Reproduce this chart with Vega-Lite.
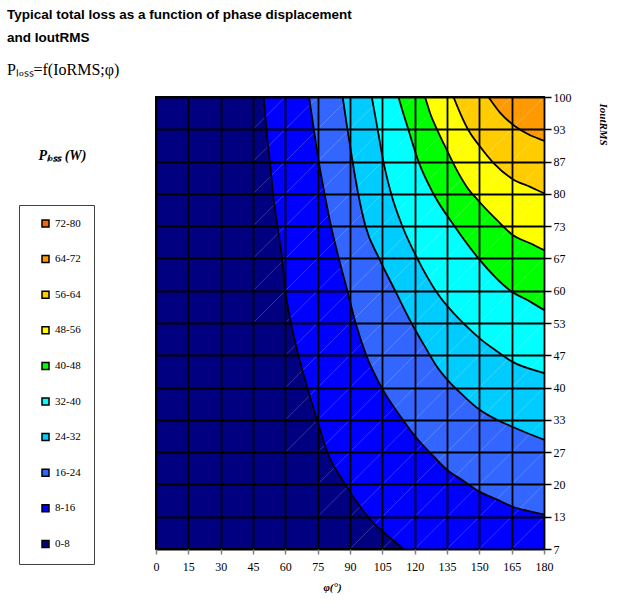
{
  "$schema": "https://vega.github.io/schema/vega-lite/v6.json",
  "width": 388,
  "height": 452,
  "autosize": {"type": "none"},
  "padding": {"left": 156, "top": 97, "right": 84, "bottom": 67},
  "background": "#ffffff",
  "title": {
    "text": ["Typical total loss as a function of phase displacement", "and IoutRMS"],
    "subtitle": "Pₗₒₛₛ=f(IoRMS;φ)",
    "anchor": "start",
    "frame": "group",
    "dx": -149,
    "offset": 13,
    "font": "Liberation Sans",
    "fontSize": 13.5,
    "fontWeight": "bold",
    "color": "#000000",
    "lineHeight": 23,
    "subtitleFont": "Liberation Serif",
    "subtitleFontSize": 16,
    "subtitleColor": "#000000",
    "subtitlePadding": 18
  },
  "datasets": {
    "contours": [
      {"lv": 8, "phi": 47.3, "I": 113.3}, {"lv": 8, "phi": 50.0, "I": 100}, {"lv": 8, "phi": 51.2, "I": 93.4}, {"lv": 8, "phi": 52.8, "I": 86.7}, {"lv": 8, "phi": 54.3, "I": 80.1}, {"lv": 8, "phi": 56.3, "I": 73.4}, {"lv": 8, "phi": 58.5, "I": 66.8}, {"lv": 8, "phi": 60.0, "I": 60.1}, {"lv": 8, "phi": 62.6, "I": 53.5}, {"lv": 8, "phi": 66.0, "I": 46.9}, {"lv": 8, "phi": 70.2, "I": 40.2}, {"lv": 8, "phi": 74.7, "I": 33.6}, {"lv": 8, "phi": 79.5, "I": 26.9}, {"lv": 8, "phi": 87.8, "I": 20.3}, {"lv": 8, "phi": 98.3, "I": 13.6}, {"lv": 8, "phi": 114.6, "I": 7.0}, {"lv": 8, "phi": 129.0, "I": 0.4}, {"lv": 8, "phi": 187.5, "I": -19.6},
      {"lv": 16, "phi": 66.5, "I": 113.3}, {"lv": 16, "phi": 71.0, "I": 100}, {"lv": 16, "phi": 73.2, "I": 93.4}, {"lv": 16, "phi": 75.5, "I": 86.7}, {"lv": 16, "phi": 78.2, "I": 80.1}, {"lv": 16, "phi": 81.2, "I": 73.4}, {"lv": 16, "phi": 84.8, "I": 66.8}, {"lv": 16, "phi": 88.8, "I": 60.1}, {"lv": 16, "phi": 92.6, "I": 53.5}, {"lv": 16, "phi": 97.5, "I": 46.9}, {"lv": 16, "phi": 104.7, "I": 40.2}, {"lv": 16, "phi": 114.5, "I": 33.6}, {"lv": 16, "phi": 120.2, "I": 30.2}, {"lv": 16, "phi": 128.7, "I": 26.1}, {"lv": 16, "phi": 135.0, "I": 23.3}, {"lv": 16, "phi": 142.7, "I": 21.0}, {"lv": 16, "phi": 150.0, "I": 18.8}, {"lv": 16, "phi": 158.1, "I": 17.2}, {"lv": 16, "phi": 165.0, "I": 15.8}, {"lv": 16, "phi": 180.0, "I": 14.1}, {"lv": 16, "phi": 195.0, "I": 12.7},
      {"lv": 24, "phi": 82.0, "I": 113.3}, {"lv": 24, "phi": 86.6, "I": 100}, {"lv": 24, "phi": 88.8, "I": 93.4}, {"lv": 24, "phi": 91.2, "I": 86.7}, {"lv": 24, "phi": 93.8, "I": 80.1}, {"lv": 24, "phi": 97.2, "I": 73.4}, {"lv": 24, "phi": 103.5, "I": 66.8}, {"lv": 24, "phi": 111.0, "I": 60.1}, {"lv": 24, "phi": 118.5, "I": 53.5}, {"lv": 24, "phi": 125.6, "I": 48.0}, {"lv": 24, "phi": 130.2, "I": 44.6}, {"lv": 24, "phi": 135.0, "I": 41.9}, {"lv": 24, "phi": 142.7, "I": 38.5}, {"lv": 24, "phi": 150.0, "I": 35.7}, {"lv": 24, "phi": 158.1, "I": 33.6}, {"lv": 24, "phi": 165.0, "I": 32.2}, {"lv": 24, "phi": 180.0, "I": 29.5}, {"lv": 24, "phi": 195.0, "I": 27.3},
      {"lv": 32, "phi": 94.7, "I": 113.3}, {"lv": 32, "phi": 100.1, "I": 100}, {"lv": 32, "phi": 102.8, "I": 93.4}, {"lv": 32, "phi": 105.5, "I": 86.7}, {"lv": 32, "phi": 109.1, "I": 80.1}, {"lv": 32, "phi": 114.3, "I": 73.4}, {"lv": 32, "phi": 121.2, "I": 66.8}, {"lv": 32, "phi": 129.8, "I": 60.1}, {"lv": 32, "phi": 142.5, "I": 53.5}, {"lv": 32, "phi": 145.8, "I": 52.1}, {"lv": 32, "phi": 150.0, "I": 50.4}, {"lv": 32, "phi": 158.1, "I": 47.7}, {"lv": 32, "phi": 165.0, "I": 45.6}, {"lv": 32, "phi": 180.0, "I": 43.2}, {"lv": 32, "phi": 195.0, "I": 41.2},
      {"lv": 40, "phi": 108.8, "I": 106.6}, {"lv": 40, "phi": 112.5, "I": 100}, {"lv": 40, "phi": 117.0, "I": 93.4}, {"lv": 40, "phi": 121.8, "I": 86.7}, {"lv": 40, "phi": 128.7, "I": 80.1}, {"lv": 40, "phi": 138.5, "I": 73.4}, {"lv": 40, "phi": 149.6, "I": 66.8}, {"lv": 40, "phi": 164.6, "I": 60.1}, {"lv": 40, "phi": 173.6, "I": 57.9}, {"lv": 40, "phi": 180.0, "I": 56.2}, {"lv": 40, "phi": 195.0, "I": 53.5},
      {"lv": 48, "phi": 120.0, "I": 106.6}, {"lv": 48, "phi": 124.8, "I": 100}, {"lv": 48, "phi": 127.2, "I": 96.6}, {"lv": 48, "phi": 130.5, "I": 93.2}, {"lv": 48, "phi": 134.9, "I": 89.1}, {"lv": 48, "phi": 139.5, "I": 85.0}, {"lv": 48, "phi": 144.2, "I": 81.5}, {"lv": 48, "phi": 149.9, "I": 78.5}, {"lv": 48, "phi": 158.1, "I": 74.7}, {"lv": 48, "phi": 165.5, "I": 71.6}, {"lv": 48, "phi": 173.6, "I": 69.9}, {"lv": 48, "phi": 180.0, "I": 68.5}, {"lv": 48, "phi": 195.0, "I": 66.1},
      {"lv": 56, "phi": 132.0, "I": 106.6}, {"lv": 56, "phi": 138.0, "I": 100}, {"lv": 56, "phi": 141.2, "I": 96.6}, {"lv": 56, "phi": 144.9, "I": 93.2}, {"lv": 56, "phi": 150.3, "I": 89.8}, {"lv": 56, "phi": 156.6, "I": 86.4}, {"lv": 56, "phi": 165.5, "I": 83.1}, {"lv": 56, "phi": 173.6, "I": 81.5}, {"lv": 56, "phi": 180.0, "I": 80.2}, {"lv": 56, "phi": 195.0, "I": 77.4},
      {"lv": 64, "phi": 143.3, "I": 106.6}, {"lv": 64, "phi": 154.2, "I": 100}, {"lv": 64, "phi": 159.8, "I": 96.7}, {"lv": 64, "phi": 165.3, "I": 94.4}, {"lv": 64, "phi": 172.5, "I": 92.4}, {"lv": 64, "phi": 180.0, "I": 91.0}, {"lv": 64, "phi": 195.0, "I": 88.7}
    ],
    "diag": [
      {"x0": 45, "x1": 60, "y0": 53.5, "y1": 60.14}, {"x0": 45, "x1": 60, "y0": 60.14, "y1": 66.79}, {"x0": 45, "x1": 60, "y0": 66.79, "y1": 73.43}, {"x0": 45, "x1": 60, "y0": 73.43, "y1": 80.07}, {"x0": 45, "x1": 60, "y0": 80.07, "y1": 86.71}, {"x0": 45, "x1": 60, "y0": 86.71, "y1": 93.36}, {"x0": 45, "x1": 60, "y0": 93.36, "y1": 100},
      {"x0": 60, "x1": 75, "y0": 26.93, "y1": 33.57}, {"x0": 60, "x1": 75, "y0": 33.57, "y1": 40.21}, {"x0": 60, "x1": 75, "y0": 40.21, "y1": 46.86}, {"x0": 60, "x1": 75, "y0": 46.86, "y1": 53.5}, {"x0": 60, "x1": 75, "y0": 53.5, "y1": 60.14}, {"x0": 60, "x1": 75, "y0": 60.14, "y1": 66.79}, {"x0": 60, "x1": 75, "y0": 66.79, "y1": 73.43}, {"x0": 60, "x1": 75, "y0": 73.43, "y1": 80.07}, {"x0": 60, "x1": 75, "y0": 80.07, "y1": 86.71}, {"x0": 60, "x1": 75, "y0": 86.71, "y1": 93.36}, {"x0": 60, "x1": 75, "y0": 93.36, "y1": 100},
      {"x0": 75, "x1": 90, "y0": 13.64, "y1": 20.29}, {"x0": 75, "x1": 90, "y0": 20.29, "y1": 26.93}, {"x0": 75, "x1": 90, "y0": 26.93, "y1": 33.57}, {"x0": 75, "x1": 90, "y0": 33.57, "y1": 40.21}, {"x0": 75, "x1": 90, "y0": 40.21, "y1": 46.86}, {"x0": 75, "x1": 90, "y0": 46.86, "y1": 53.5}, {"x0": 75, "x1": 90, "y0": 53.5, "y1": 60.14}, {"x0": 75, "x1": 90, "y0": 60.14, "y1": 66.79}, {"x0": 75, "x1": 90, "y0": 66.79, "y1": 73.43}, {"x0": 75, "x1": 90, "y0": 73.43, "y1": 80.07}, {"x0": 75, "x1": 90, "y0": 80.07, "y1": 86.71}, {"x0": 75, "x1": 90, "y0": 86.71, "y1": 93.36}, {"x0": 75, "x1": 90, "y0": 93.36, "y1": 100},
      {"x0": 90, "x1": 105, "y0": 7, "y1": 13.64}, {"x0": 90, "x1": 105, "y0": 13.64, "y1": 20.29}, {"x0": 90, "x1": 105, "y0": 20.29, "y1": 26.93}, {"x0": 90, "x1": 105, "y0": 26.93, "y1": 33.57}, {"x0": 90, "x1": 105, "y0": 33.57, "y1": 40.21}, {"x0": 90, "x1": 105, "y0": 40.21, "y1": 46.86}, {"x0": 90, "x1": 105, "y0": 46.86, "y1": 53.5}, {"x0": 90, "x1": 105, "y0": 53.5, "y1": 60.14}, {"x0": 90, "x1": 105, "y0": 60.14, "y1": 66.79}, {"x0": 90, "x1": 105, "y0": 66.79, "y1": 73.43}, {"x0": 90, "x1": 105, "y0": 73.43, "y1": 80.07}, {"x0": 90, "x1": 105, "y0": 80.07, "y1": 86.71}, {"x0": 90, "x1": 105, "y0": 86.71, "y1": 93.36}, {"x0": 90, "x1": 105, "y0": 93.36, "y1": 100},
      {"x0": 105, "x1": 120, "y0": 7, "y1": 13.64}, {"x0": 105, "x1": 120, "y0": 13.64, "y1": 20.29}, {"x0": 105, "x1": 120, "y0": 20.29, "y1": 26.93}, {"x0": 105, "x1": 120, "y0": 26.93, "y1": 33.57}, {"x0": 105, "x1": 120, "y0": 33.57, "y1": 40.21}, {"x0": 105, "x1": 120, "y0": 40.21, "y1": 46.86}, {"x0": 105, "x1": 120, "y0": 46.86, "y1": 53.5}, {"x0": 105, "x1": 120, "y0": 53.5, "y1": 60.14}, {"x0": 105, "x1": 120, "y0": 60.14, "y1": 66.79}, {"x0": 105, "x1": 120, "y0": 66.79, "y1": 73.43}, {"x0": 105, "x1": 120, "y0": 73.43, "y1": 80.07}, {"x0": 105, "x1": 120, "y0": 80.07, "y1": 86.71}, {"x0": 105, "x1": 120, "y0": 86.71, "y1": 93.36}, {"x0": 105, "x1": 120, "y0": 93.36, "y1": 100},
      {"x0": 120, "x1": 135, "y0": 7, "y1": 13.64}, {"x0": 120, "x1": 135, "y0": 13.64, "y1": 20.29}, {"x0": 120, "x1": 135, "y0": 20.29, "y1": 26.93}, {"x0": 120, "x1": 135, "y0": 26.93, "y1": 33.57}, {"x0": 120, "x1": 135, "y0": 33.57, "y1": 40.21}, {"x0": 120, "x1": 135, "y0": 40.21, "y1": 46.86}, {"x0": 120, "x1": 135, "y0": 46.86, "y1": 53.5}, {"x0": 120, "x1": 135, "y0": 53.5, "y1": 60.14}, {"x0": 120, "x1": 135, "y0": 60.14, "y1": 66.79}, {"x0": 120, "x1": 135, "y0": 66.79, "y1": 73.43}, {"x0": 120, "x1": 135, "y0": 73.43, "y1": 80.07}, {"x0": 120, "x1": 135, "y0": 80.07, "y1": 86.71}, {"x0": 120, "x1": 135, "y0": 86.71, "y1": 93.36}, {"x0": 120, "x1": 135, "y0": 93.36, "y1": 100},
      {"x0": 135, "x1": 150, "y0": 7, "y1": 13.64}, {"x0": 135, "x1": 150, "y0": 13.64, "y1": 20.29}, {"x0": 135, "x1": 150, "y0": 20.29, "y1": 26.93}, {"x0": 135, "x1": 150, "y0": 26.93, "y1": 33.57}, {"x0": 135, "x1": 150, "y0": 33.57, "y1": 40.21}, {"x0": 135, "x1": 150, "y0": 40.21, "y1": 46.86}, {"x0": 135, "x1": 150, "y0": 46.86, "y1": 53.5}, {"x0": 135, "x1": 150, "y0": 53.5, "y1": 60.14}, {"x0": 135, "x1": 150, "y0": 60.14, "y1": 66.79}, {"x0": 135, "x1": 150, "y0": 66.79, "y1": 73.43}, {"x0": 135, "x1": 150, "y0": 73.43, "y1": 80.07}, {"x0": 135, "x1": 150, "y0": 80.07, "y1": 86.71}, {"x0": 135, "x1": 150, "y0": 86.71, "y1": 93.36}, {"x0": 135, "x1": 150, "y0": 93.36, "y1": 100},
      {"x0": 150, "x1": 165, "y0": 7, "y1": 13.64}, {"x0": 150, "x1": 165, "y0": 13.64, "y1": 20.29}, {"x0": 150, "x1": 165, "y0": 20.29, "y1": 26.93}, {"x0": 150, "x1": 165, "y0": 26.93, "y1": 33.57}, {"x0": 150, "x1": 165, "y0": 33.57, "y1": 40.21}, {"x0": 150, "x1": 165, "y0": 40.21, "y1": 46.86}, {"x0": 150, "x1": 165, "y0": 46.86, "y1": 53.5}, {"x0": 150, "x1": 165, "y0": 53.5, "y1": 60.14}, {"x0": 150, "x1": 165, "y0": 60.14, "y1": 66.79}, {"x0": 150, "x1": 165, "y0": 66.79, "y1": 73.43}, {"x0": 150, "x1": 165, "y0": 73.43, "y1": 80.07}, {"x0": 150, "x1": 165, "y0": 80.07, "y1": 86.71}, {"x0": 150, "x1": 165, "y0": 86.71, "y1": 93.36}, {"x0": 150, "x1": 165, "y0": 93.36, "y1": 100},
      {"x0": 165, "x1": 180, "y0": 7, "y1": 13.64}, {"x0": 165, "x1": 180, "y0": 13.64, "y1": 20.29}, {"x0": 165, "x1": 180, "y0": 20.29, "y1": 26.93}, {"x0": 165, "x1": 180, "y0": 26.93, "y1": 33.57}, {"x0": 165, "x1": 180, "y0": 33.57, "y1": 40.21}, {"x0": 165, "x1": 180, "y0": 40.21, "y1": 46.86}, {"x0": 165, "x1": 180, "y0": 46.86, "y1": 53.5}, {"x0": 165, "x1": 180, "y0": 53.5, "y1": 60.14}, {"x0": 165, "x1": 180, "y0": 60.14, "y1": 66.79}, {"x0": 165, "x1": 180, "y0": 66.79, "y1": 73.43}, {"x0": 165, "x1": 180, "y0": 73.43, "y1": 80.07}, {"x0": 165, "x1": 180, "y0": 80.07, "y1": 86.71}, {"x0": 165, "x1": 180, "y0": 86.71, "y1": 93.36}, {"x0": 165, "x1": 180, "y0": 93.36, "y1": 100}
    ]
  },
  "layer": [
    {
      "data": {"name": "contours"},
      "mark": {"type": "area", "clip": true, "interpolate": "monotone", "orient": "vertical"},
      "encoding": {
        "x": {
          "field": "phi", "type": "quantitative",
          "scale": {"domain": [0, 180], "nice": false, "zero": false},
          "axis": {
            "values": [0, 15, 30, 45, 60, 75, 90, 105, 120, 135, 150, 165, 180],
            "grid": true, "gridColor": "#000000", "gridWidth": 1.8, "gridOpacity": 1,
            "domain": false, "tickColor": "#808080", "tickSize": 5, "tickWidth": 1.5,
            "labelPadding": 7, "labelFlush": false, "labelOverlap": false,
            "labelFont": "Liberation Serif", "labelFontSize": 12, "labelColor": "#000000",
            "title": "φ(°)", "titleFont": "Liberation Serif", "titleFontStyle": "italic", "titleFontWeight": "bold",
            "titleFontSize": 11, "titleColor": "#000000", "titleX": 176, "titleY": 38, "titleBaseline": "middle",
            "zindex": 1
          }
        },
        "y": {
          "field": "I", "type": "quantitative", "stack": null,
          "scale": {"domain": [7, 100], "nice": false, "zero": false},
          "axis": {
            "orient": "left", "labels": false, "ticks": false, "domain": false, "grid": false,
            "title": "Pₗₒₛₛ (W)", "titleAngle": 0, "titleX": -94, "titleY": 58,
            "titleAlign": "center", "titleBaseline": "middle",
            "titleFont": "Liberation Serif", "titleFontSize": 14, "titleFontStyle": "italic", "titleFontWeight": "bold", "titleColor": "#000000"
          }
        },
        "y2": {"datum": 100},
        "color": {
          "field": "lv", "type": "ordinal",
          "scale": {
            "domain": [72, 64, 56, 48, 40, 32, 24, 16, 8, 0],
            "range": ["#FF6600", "#FF9900", "#FFCC00", "#FFFF00", "#00FF00", "#00FFFF", "#00CCFF", "#3366FF", "#0000FF", "#000080"]
          },
          "legend": {
            "title": null, "orient": "none", "legendX": -137, "legendY": 108,
            "labelExpr": "datum.value + '-' + (datum.value + 8) + '\u00a0\u00a0\u00a0'",
            "symbolType": "square", "symbolSize": 49, "symbolStrokeColor": "#000000", "symbolStrokeWidth": 1.5, "symbolOpacity": 1,
            "labelFont": "Liberation Serif", "labelFontSize": 11, "labelColor": "#000000", "labelOffset": 4,
            "symbolOffset": 8, "rowPadding": 22.6, "padding": 13,
            "strokeColor": "#404040", "fillColor": "#ffffff"
          }
        }
      }
    },
    {
      "data": {"name": "diag"},
      "mark": {"type": "rule", "clip": true, "color": "#ffffff", "strokeWidth": 0.7, "opacity": 0.3},
      "encoding": {
        "x": {
          "field": "x0", "type": "quantitative",
          "scale": {"domain": [0, 180], "nice": false, "zero": false},
          "axis": {
            "values": [0, 15, 30, 45, 60, 75, 90, 105, 120, 135, 150, 165, 180],
            "grid": true, "gridColor": "#000000", "gridWidth": 1.8, "gridOpacity": 1,
            "domain": false, "tickColor": "#808080", "tickSize": 5, "tickWidth": 1.5,
            "labelPadding": 7, "labelFlush": false, "labelOverlap": false,
            "labelFont": "Liberation Serif", "labelFontSize": 12, "labelColor": "#000000",
            "title": "φ(°)", "titleFont": "Liberation Serif", "titleFontStyle": "italic", "titleFontWeight": "bold",
            "titleFontSize": 11, "titleColor": "#000000", "titleX": 176, "titleY": 38, "titleBaseline": "middle",
            "zindex": 1
          }
        },
        "x2": {"field": "x1"},
        "y": {"field": "y0", "type": "quantitative", "scale": {"domain": [7, 100], "nice": false, "zero": false}, "axis": null},
        "y2": {"field": "y1"}
      }
    },
    {
      "data": {"name": "contours"},
      "mark": {"type": "line", "clip": true, "interpolate": "monotone", "color": "#000000", "strokeWidth": 1.8},
      "encoding": {
        "x": {
          "field": "phi", "type": "quantitative",
          "scale": {"domain": [0, 180], "nice": false, "zero": false},
          "axis": {
            "values": [0, 15, 30, 45, 60, 75, 90, 105, 120, 135, 150, 165, 180],
            "grid": true, "gridColor": "#000000", "gridWidth": 1.8, "gridOpacity": 1,
            "domain": false, "tickColor": "#808080", "tickSize": 5, "tickWidth": 1.5,
            "labelPadding": 7, "labelFlush": false, "labelOverlap": false,
            "labelFont": "Liberation Serif", "labelFontSize": 12, "labelColor": "#000000",
            "title": "φ(°)", "titleFont": "Liberation Serif", "titleFontStyle": "italic", "titleFontWeight": "bold",
            "titleFontSize": 11, "titleColor": "#000000", "titleX": 176, "titleY": 38, "titleBaseline": "middle",
            "zindex": 1
          }
        },
        "y": {
          "field": "I", "type": "quantitative",
          "scale": {"domain": [7, 100], "nice": false, "zero": false},
          "axis": {
            "orient": "right",
            "values": [7, 13.642857, 20.285714, 26.928571, 33.571429, 40.214286, 46.857143, 53.5, 60.142857, 66.785714, 73.428571, 80.071429, 86.714286, 93.357143, 100],
            "labelExpr": "['7','13','20','27','33','40','47','53','60','67','73','80','87','93','100'][round((datum.value - 7) / 93 * 14)]",
            "grid": true, "gridColor": "#000000", "gridWidth": 1.8, "gridOpacity": 1,
            "domain": false, "tickColor": "#000000", "tickSize": 7, "tickWidth": 1.5,
            "labelPadding": 2, "labelFlush": false, "labelOverlap": false,
            "labelFont": "Liberation Serif", "labelFontSize": 12, "labelColor": "#000000",
            "title": "IoutRMS", "titleAngle": 90, "titleX": 53, "titleY": 6, "titleAlign": "left", "titleBaseline": "bottom",
            "titleFont": "Liberation Serif", "titleFontSize": 11, "titleFontStyle": "italic", "titleFontWeight": "bold", "titleColor": "#000000",
            "zindex": 1
          }
        },
        "detail": {"field": "lv", "type": "ordinal"}
      }
    }
  ],
  "resolve": {"axis": {"y": "independent"}},
  "config": {
    "view": {"fill": "#000080", "stroke": "#000000", "strokeWidth": 2}
  }
}
